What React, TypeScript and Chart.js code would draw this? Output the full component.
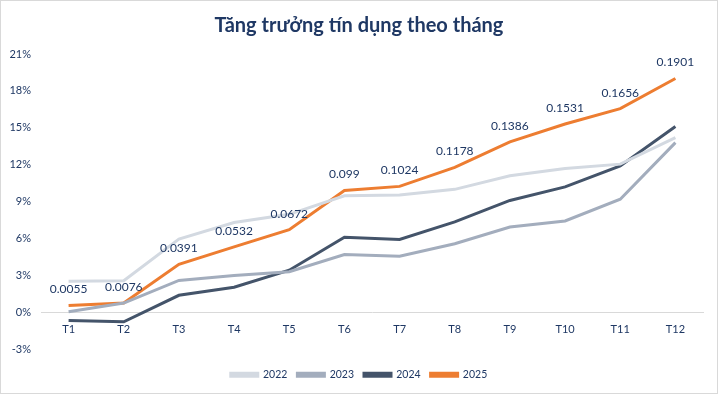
import { useEffect, useRef } from "react";
import { Chart, registerables } from "chart.js";

Chart.register(...registerables);

const categories = ["T1", "T2", "T3", "T4", "T5", "T6", "T7", "T8", "T9", "T10", "T11", "T12"];
const series2022 = [0.0253, 0.0258, 0.0596, 0.073, 0.0797, 0.0947, 0.0955, 0.1, 0.111, 0.117, 0.1205, 0.142];
const series2023 = [0.0005, 0.0076, 0.026, 0.03, 0.033, 0.047, 0.0457, 0.0558, 0.0694, 0.0743, 0.092, 0.138];
const series2024 = [-0.0065, -0.0076, 0.0139, 0.0204, 0.0343, 0.061, 0.0593, 0.0735, 0.091, 0.102, 0.119, 0.151];
const series2025 = [0.0055, 0.0076, 0.0391, 0.0532, 0.0672, 0.099, 0.1024, 0.1178, 0.1386, 0.1531, 0.1656, 0.1901];
const seriesNames = ["2022", "2023", "2024", "2025"];
const yMin = -0.03;
const yMax = 0.21;
const yStep = 0.03;

const FONT = "Lato, 'Open Sans', sans-serif";
const TEXT = "#1f3864";

const labelPlugin = {
  id: "valueLabels",
  afterDatasetsDraw(chart: any) {
    const ctx = chart.ctx;
    const meta = chart.getDatasetMeta(3);
    const data = chart.data.datasets[3].data as number[];
    ctx.save();
    ctx.font = `12px ${FONT}`;
    ctx.fillStyle = TEXT;
    ctx.textAlign = "center";
    ctx.textBaseline = "bottom";
    meta.data.forEach((pt: any, i: number) => {
      ctx.fillText(String(data[i]), pt.x, pt.y - 10);
    });
    ctx.restore();
  },
};

export default function App() {
  const ref = useRef<HTMLCanvasElement>(null);
  useEffect(() => {
    document.body.style.margin = "0";
    const colors = ["#d3d9e1", "#a3adbd", "#44546a", "#ed7d31"];
    const all = [series2022, series2023, series2024, series2025];
    const chart = new Chart(ref.current!, {
      type: "line",
      data: {
        labels: categories,
        datasets: all.map((d, i) => ({
          label: seriesNames[i],
          data: d,
          borderColor: colors[i],
          backgroundColor: colors[i],
          borderWidth: 3,
          pointRadius: 0,
          tension: 0,
          yAxisID: "y",
        })),
      },
      options: {
        animation: false,
        responsive: false,
        layout: { padding: { left: 0, right: 0, top: 0, bottom: 3 } },
        plugins: {
          title: {
            display: true,
            text: "Tăng trưởng tín dụng theo tháng",
            color: "#1f3864",
            font: { family: FONT, size: 20, weight: "bold" },
            padding: { top: 13, bottom: 16 },
          },
          legend: {
            position: "bottom",
            title: {
              display: true,
              text: " ",
              font: { size: 1 },
              padding: { top: 0, bottom: 9 },
            },
            labels: {
              color: TEXT,
              font: { family: FONT, size: 10.5 },
              boxWidth: 27,
              boxHeight: 3,
              padding: 10,
            },
          },
          tooltip: { enabled: false },
        },
        scales: {
          x: {
            position: { y: 0 } as any,
            offset: true,
            grid: { display: false },
            border: { color: "#d9d9d9" },
            ticks: { color: TEXT, font: { family: FONT, size: 11 }, padding: 2 },
          },
          y: {
            min: yMin,
            max: yMax,
            grid: { display: false, drawTicks: false },
            border: { display: false },
            afterFit: (scale: any) => {
              scale.width = 40;
            },
            ticks: {
              stepSize: yStep,
              color: TEXT,
              font: { family: FONT, size: 11 },
              padding: 10,
              callback: (v: any) => `${Math.round(Number(v) * 100)}%`,
            },
          },
          yRight: {
            position: "right",
            min: yMin,
            max: yMax,
            grid: { display: false, drawTicks: false },
            border: { display: false },
            ticks: { display: false },
            afterFit: (scale: any) => {
              scale.width = 14;
            },
          },
        },
      },
      plugins: [labelPlugin],
    });
    return () => chart.destroy();
  }, []);
  return (
    <div style={{ width: 716, height: 392, border: "1px solid #d9d9d9", background: "#fff" }}>
      <canvas ref={ref} width={716} height={392} />
    </div>
  );
}
